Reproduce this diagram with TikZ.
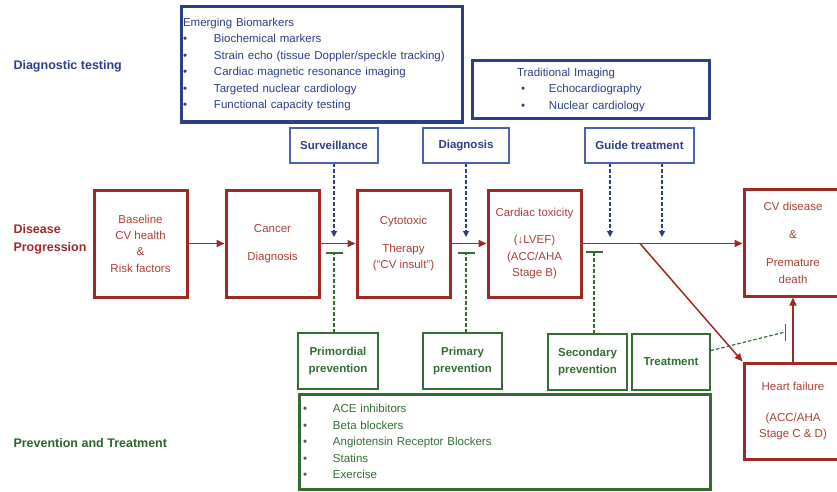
\documentclass[tikz,border=0pt]{standalone}
\usepackage{fontspec}
\setmainfont{Liberation Sans}
\usetikzlibrary{arrows.meta}

\definecolor{testblue}{RGB}{44,62,138}
\definecolor{lightblue}{RGB}{72,100,170}
\definecolor{stagered}{RGB}{158,42,38}
\definecolor{textred}{RGB}{172,62,54}
\definecolor{prevgreen}{RGB}{45,100,45}
\definecolor{textgreen}{RGB}{52,108,52}

\tikzset{
  stagebox/.style={draw=stagered, line width=3pt, text=textred, align=center,
    minimum width=93pt, minimum height=107pt, font=\fontsize{11.5}{16.3}\selectfont},
  listbox/.style={draw=#1, line width=3pt, text=#1, align=left,
    font=\fontsize{11.5}{16.5}\selectfont},
  testbox/.style={draw=lightblue, line width=1.2pt, text=testblue, align=center,
    minimum height=35pt, font=\bfseries\fontsize{11.5}{14}\selectfont},
  prevbox/.style={draw=textgreen, line width=1.2pt, text=textgreen, align=center,
    minimum height=56pt, font=\bfseries\fontsize{11.5}{17}\selectfont},
  rowlabel/.style={anchor=west, align=left, text=#1, font=\bfseries\fontsize{12.5}{18}\selectfont},
  progress/.style={draw=stagered, line width=1.5pt, -{Triangle[length=8pt,width=7pt]}},
  testarrow/.style={draw=testblue, line width=1.2pt, dash pattern=on 3.5pt off 2pt,
    -{Triangle[length=6pt,width=6pt]}},
  blockline/.style={draw=textgreen, line width=1.2pt, dash pattern=on 3.5pt off 2pt,
    -{Bar[width=17pt,line width=1.5pt]}}
}

\begin{document}
\begin{tikzpicture}[x=1pt,y=-1pt]
  \useasboundingbox (0,0) rectangle (837,492);

  % Row labels
  \node[rowlabel=testblue] (lbltest) at (10,66) {Diagnostic testing};
  \node[rowlabel=stagered] (lblprog) at (10,239) {Disease\\Progression};
  \node[rowlabel=prevgreen] (lblprev) at (10,443) {Prevention and Treatment};

  % Diagnostic testing boxes
  \node[listbox=testblue, minimum width=281pt, minimum height=115pt,
        inner xsep=2pt, text width=277pt] (emerging) at (321.5,64.5)
    {Emerging Biomarkers\\
     \makebox[31pt][l]{•}Biochemical markers\\
     \makebox[31pt][l]{•}Strain echo (tissue Doppler/speckle tracking)\\
     \makebox[31pt][l]{•}Cardiac magnetic resonance imaging\\
     \makebox[31pt][l]{•}Targeted nuclear cardiology\\
     \makebox[31pt][l]{•}Functional capacity testing};
  \node[listbox=testblue, minimum width=237pt, minimum height=58pt,
        inner xsep=45pt, text width=147pt] (traditional) at (590.5,90)
    {Traditional Imaging\\
     \hspace*{4pt}\makebox[28pt][l]{•}Echocardiography\\
     \hspace*{4pt}\makebox[28pt][l]{•}Nuclear cardiology};

  \node[testbox, minimum width=88pt] (surv) at (334,145.5) {Surveillance};
  \node[testbox, minimum width=86pt] (diag) at (466,145.5) {Diagnosis};
  \node[testbox, minimum width=109pt] (guide) at (639.5,145.5) {Guide treatment};

  % Disease progression boxes
  \node[stagebox] (baseline) at (140.5,243.5) {Baseline\\CV health\\\&\\Risk factors};
  \node[stagebox] (cancer) at (272.5,243.5) {Cancer\\[12pt]Diagnosis};
  \node[stagebox] (cyto) at (403.5,243.5) {Cytotoxic\\[12pt]Therapy\\(“CV insult”)};
  \node[stagebox] (cardiac) at (534.5,243.5) {Cardiac toxicity\\[11pt](↓LVEF)\\(ACC/AHA\\Stage B)};
  \node[stagebox, minimum width=98pt] (cvd) at (793,242.5) {CV disease\\[12pt]\&\\[12pt]Premature\\death};
  \node[stagebox, minimum width=98pt, minimum height=96pt] (hf) at (793,411)
    {Heart failure\\[15pt](ACC/AHA\\Stage C \& D)};

  % Prevention boxes
  \node[prevbox, minimum width=80pt] (primordial) at (338,361) {Primordial\\prevention};
  \node[prevbox, minimum width=79pt] (primary) at (462.5,361) {Primary\\prevention};
  \node[prevbox, minimum width=79pt] (secondary) at (587.5,362) {Secondary\\prevention};
  \node[prevbox, minimum width=78pt] (treat) at (671,362) {Treatment};
  \node[listbox=textgreen, minimum width=411pt, minimum height=95pt,
        inner xsep=3.8pt, text width=403pt] (drugs) at (504.5,441.5)
    {\makebox[30pt][l]{•}ACE inhibitors\\
     \makebox[30pt][l]{•}Beta blockers\\
     \makebox[30pt][l]{•}Angiotensin Receptor Blockers\\
     \makebox[30pt][l]{•}Statins\\
     \makebox[30pt][l]{•}Exercise};

  % Progression arrows
  \draw[progress] (baseline) -- (cancer);
  \draw[progress] (cancer) -- (cyto);
  \draw[progress] (cyto) -- (cardiac);
  \draw[progress] (cardiac.east) -- (cardiac.east -| cvd.west);
  \coordinate (split) at (640,243.5);
  \draw[progress] (split) -- (hf.north west);
  \draw[progress] (hf.north) -- (cvd.south);

  % Testing arrows
  \coordinate (survend) at (334,237);
  \coordinate (diagend) at (466,237);
  \coordinate (guideendA) at (610,237);
  \coordinate (guideendB) at (662,237);
  \draw[testarrow] (surv.south) -- (survend);
  \draw[testarrow] (diag.south) -- (diagend);
  \draw[testarrow] (guide.south -| guideendA) -- (guideendA);
  \draw[testarrow] (guide.south -| guideendB) -- (guideendB);

  % Prevention blocks
  \coordinate (barA) at (334,252);
  \coordinate (barB) at (466,252);
  \coordinate (barC) at (594,251);
  \coordinate (barD) at (786,332);
  \draw[blockline] (primordial.north -| barA) -- (barA);
  \draw[blockline] (primary.north -| barB) -- (barB);
  \draw[blockline] (secondary.north -| barC) -- (barC);
  \draw[blockline] (treat.16) -- ([xshift=-1pt]barD) -- (barD);

\end{tikzpicture}
\end{document}
